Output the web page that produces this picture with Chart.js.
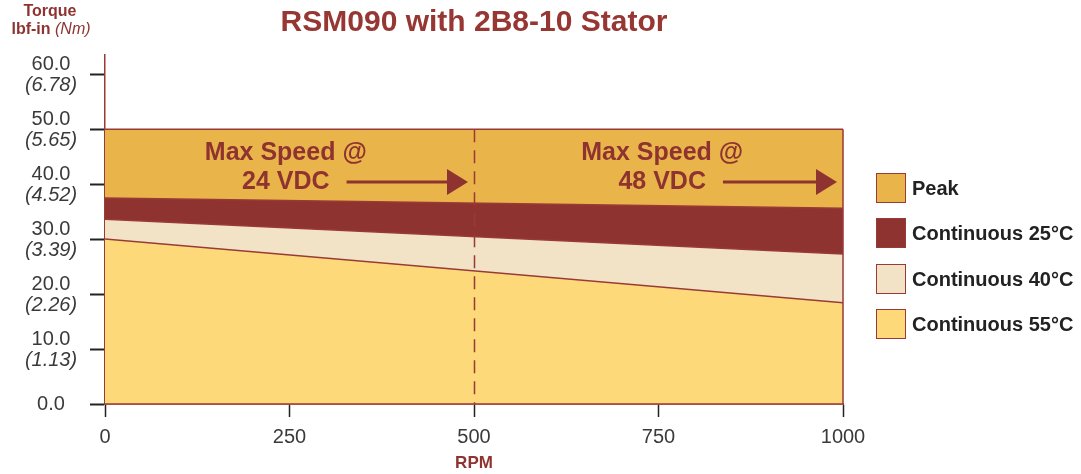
<!DOCTYPE html>
<html>
<head>
<meta charset="utf-8">
<script src="https://cdn.jsdelivr.net/npm/chart.js@4"></script>
<style>
html,body{margin:0;padding:0;background:#fff;}
#wrap{position:relative;width:1081px;height:474px;}
#legend{position:absolute;left:876px;top:173px;font-family:'Liberation Sans',Arial,sans-serif;}
#legend .it{position:absolute;left:0;width:220px;height:30px;}
#legend .bx{position:absolute;left:0;top:0;width:30px;height:30px;box-sizing:border-box;border:1.5px solid #9a3a36;}
#legend .tx{position:absolute;left:36px;top:0;line-height:30px;font-size:20px;font-weight:bold;color:#222;white-space:nowrap;}
</style>
</head>
<body>
<div id="wrap"><canvas id="c"></canvas><div id="legend"></div></div>
<script>
/* RSM090 torque / speed envelope */
const rpm=[0,1000];
const peak=[50,50];
const cont25=[37.5,35.6];
const cont40=[33.6,27.3];
const cont55=[30.0,18.4];
const xTicks=[0,250,500,750,1000];
const yTicks=[0,10,20,30,40,50,60];
const yTicksNm=['','(1.13)','(2.26)','(3.39)','(4.52)','(5.65)','(6.78)'];
const speedRpm=[500,1000];
const speedLabel=[['Max Speed @','24 VDC'],['Max Speed @','48 VDC']];

const RED='#8f3331',LINE='#9a3a36',TXT='#3a3a3a',FONT="'Liberation Sans',Arial,sans-serif";
const series=[
  {l:'Continuous 55°C',d:cont55,c:'#fdd97a'},
  {l:'Continuous 40°C',d:cont40,c:'#f2e3c7'},
  {l:'Continuous 25°C',d:cont25,c:RED},
  {l:'Peak',d:peak,c:'#e9b54a'}
];
const pts=arr=>rpm.map((x,i)=>({x,y:arr[i]}));

// overlay: outline edges, 24V dashed marker, speed notes, two-line y labels, y header
const extras={id:'extras',afterDraw(chart){
  const {ctx,scales:{x,y}}=chart;
  const y0=y.getPixelForValue(0);
  ctx.save();
  ctx.strokeStyle=LINE;ctx.lineWidth=1.5;
  const xl=x.getPixelForValue(rpm[0]),xr=x.getPixelForValue(rpm[rpm.length-1]);
  ctx.beginPath();ctx.moveTo(xr,y.getPixelForValue(peak[peak.length-1]));ctx.lineTo(xr,y0);ctx.lineTo(xl,y0);ctx.stroke();
  // dashed marker at 24 VDC max speed
  speedRpm.forEach(s=>{
    if(s>=x.max)return;
    const px=Math.round(x.getPixelForValue(s))+0.5;
    ctx.setLineDash([13,8]);ctx.strokeStyle=LINE;ctx.lineWidth=1.5;
    ctx.beginPath();ctx.moveTo(px,y.getPixelForValue(peak[0]));ctx.lineTo(px,y0);ctx.stroke();
    ctx.setLineDash([]);
  });
  // speed notes + arrows
  const noteX=[245,755];
  speedRpm.forEach((s,i)=>{
    const cx=x.getPixelForValue(noteX[i]);
    const l1=y.getPixelForValue(45.6),l2=y.getPixelForValue(40.4);
    ctx.font='bold 25px '+FONT;ctx.fillStyle=RED;ctx.textAlign='center';ctx.textBaseline='middle';
    ctx.fillText(speedLabel[i][0],cx,l1);
    ctx.fillText(speedLabel[i][1],cx,l2);
    const w=ctx.measureText(speedLabel[i][1]).width;
    const a0=cx+w/2+17,tip=x.getPixelForValue(s)-6,ay=l2;
    ctx.strokeStyle=RED;ctx.lineWidth=3;
    ctx.beginPath();ctx.moveTo(a0,ay);ctx.lineTo(tip-20,ay);ctx.stroke();
    ctx.beginPath();ctx.moveTo(tip-21,ay-13);ctx.lineTo(tip,ay);ctx.lineTo(tip-21,ay+13);ctx.closePath();ctx.fill();
  });
  // y tick labels, lbf-in over (Nm)
  ctx.textAlign='center';ctx.textBaseline='middle';ctx.fillStyle=TXT;
  yTicks.forEach((v,i)=>{
    const ty=y.getPixelForValue(v);
    if(yTicksNm[i]){
      ctx.font='20px '+FONT;ctx.fillText(v.toFixed(1),51,ty-10);
      ctx.font='italic 20px '+FONT;ctx.fillText(yTicksNm[i],51,ty+11);
    }else{ctx.font='20px '+FONT;ctx.fillText(v.toFixed(1),51,ty);}
  });
  // y header
  ctx.fillStyle=RED;
  ctx.font='bold 16px '+FONT;ctx.fillText('Torque',50,12);
  const a='lbf-in',b=' (Nm)';
  const wa=ctx.measureText(a).width;ctx.font='italic 16px '+FONT;const wb=ctx.measureText(b).width;
  const sx=51-(wa+wb)/2;ctx.textAlign='left';
  ctx.font='bold 16px '+FONT;ctx.fillText(a,sx,30);
  ctx.font='italic 16px '+FONT;ctx.fillText(b,sx+wa,30);
  ctx.restore();
}};

new Chart(document.getElementById('c'),{
  type:'line',
  data:{datasets:series.map(s=>({label:s.l,data:pts(s.d),backgroundColor:s.c,borderColor:LINE,borderWidth:1.5,fill:'origin',pointRadius:0,tension:0}))},
  options:{
    responsive:true,maintainAspectRatio:false,animation:false,
    layout:{padding:{left:0,right:238,top:0,bottom:0}},
    plugins:{
      legend:{display:false},tooltip:{enabled:false},
      title:{display:true,text:'RSM090 with 2B8-10 Stator',color:'#973734',fullSize:false,font:{family:FONT,size:30,weight:'bold'},padding:{top:5,bottom:14}}
    },
    scales:{
      x:{type:'linear',min:0,max:1000,
        afterBuildTicks:s=>{s.ticks=xTicks.map(v=>({value:v}));},
        afterFit:s=>{s.height=70;},
        grid:{drawOnChartArea:false,drawTicks:true,tickLength:13,tickColor:'#222',tickWidth:1.5},
        border:{color:LINE,width:1.5},
        ticks:{color:TXT,font:{family:FONT,size:20},padding:8,maxRotation:0,callback:v=>String(v)},
        title:{display:true,text:'RPM',color:RED,font:{family:FONT,size:17,weight:'bold'},padding:{top:0,bottom:0}}},
      y:{min:0,max:63.5,
        afterBuildTicks:s=>{s.ticks=yTicks.map(v=>({value:v}));},
        afterFit:s=>{s.width=105;},
        grid:{drawOnChartArea:false,drawTicks:true,tickLength:15,tickColor:'#222',tickWidth:2},
        border:{color:LINE,width:1.5},
        ticks:{display:false}}
    }
  },
  plugins:[extras]
});

// legend, top to bottom: Peak, 25, 40, 55
const lg=document.getElementById('legend');
series.slice().reverse().forEach((s,i)=>{
  const it=document.createElement('div');it.className='it';it.style.top=(i*45.3)+'px';
  it.innerHTML='<div class="bx" style="background:'+s.c+'"></div><div class="tx">'+s.l+'</div>';
  lg.appendChild(it);
});
</script>
</body>
</html>
